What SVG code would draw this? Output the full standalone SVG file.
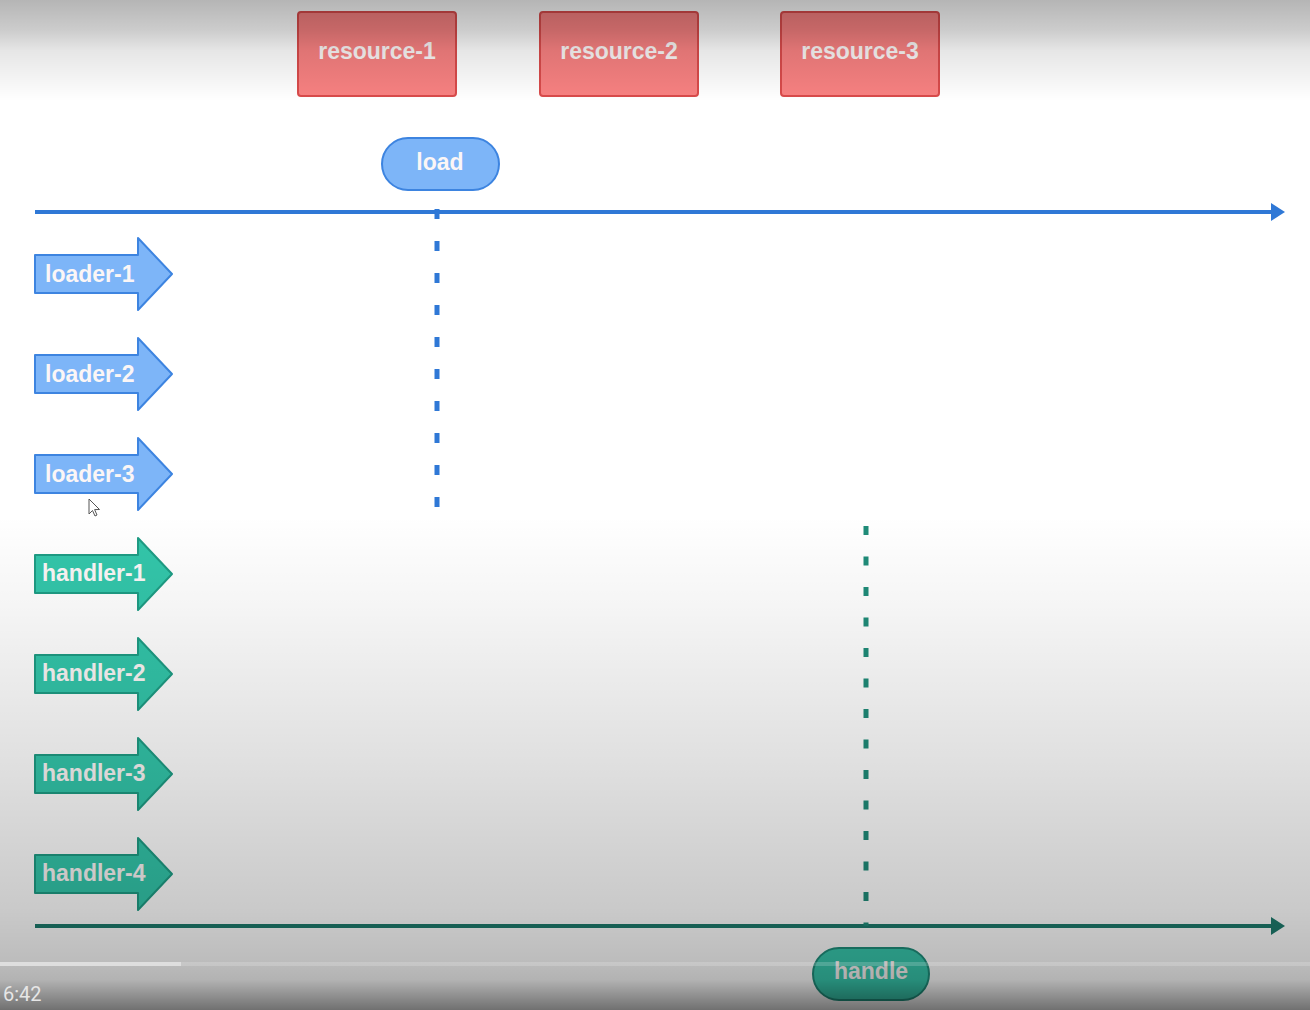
<svg xmlns="http://www.w3.org/2000/svg" xmlns:xlink="http://www.w3.org/1999/xlink" width="1310" height="1010" viewBox="0 0 1310 1010">
<defs>
<style>
.lbl{font-family:"Liberation Sans",Arial,sans-serif;font-weight:bold;font-size:23px;fill:#fbf6f6}
.res{fill:#f88181;stroke:#d94b4b;stroke-width:2}
.blue{fill:#7db5f8;stroke:#3d84e0;stroke-width:2;stroke-linejoin:round}
.teal{fill:#33c6aa;stroke:#1e9c84;stroke-width:2;stroke-linejoin:round}
.hpill{fill:#38c9ae;stroke:#1f8f7c;stroke-width:2}
.axisb{stroke:#2f78d6;stroke-width:4;fill:none}
.axist{stroke:#1d7b6d;stroke-width:4;fill:none}
.dashb{stroke:#2f78d6;stroke-width:5;stroke-dasharray:10 22;fill:none}
.dasht{stroke:#1f8c79;stroke-width:5;stroke-dasharray:9 21.5;fill:none}
</style>
<path id="arr" d="M35,-19 H138 V-36 L172,0 L138,36 V19 H35 Z"/>
<marker id="hb" markerUnits="userSpaceOnUse" markerWidth="16" markerHeight="20" refX="0" refY="10" orient="auto">
<path d="M0,1 L14,10 L0,19 Z" fill="#2f78d6"/>
</marker>
<marker id="ht" markerUnits="userSpaceOnUse" markerWidth="16" markerHeight="20" refX="0" refY="10" orient="auto">
<path d="M0,1 L14,10 L0,19 Z" fill="#1d7b6d"/>
</marker>
<linearGradient id="shade" gradientUnits="userSpaceOnUse" x1="0" y1="0" x2="0" y2="1010">
<stop offset="0" stop-color="#000" stop-opacity="0.29"/>
<stop offset="0.03" stop-color="#000" stop-opacity="0.2"/>
<stop offset="0.05" stop-color="#000" stop-opacity="0.1"/>
<stop offset="0.1" stop-color="#000" stop-opacity="0"/>
<stop offset="0.51" stop-color="#000" stop-opacity="0"/>
<stop offset="0.6" stop-color="#000" stop-opacity="0.04"/>
<stop offset="0.75" stop-color="#000" stop-opacity="0.12"/>
<stop offset="0.9" stop-color="#000" stop-opacity="0.21"/>
<stop offset="0.95" stop-color="#000" stop-opacity="0.26"/>
<stop offset="0.97" stop-color="#000" stop-opacity="0.3"/>
<stop offset="1" stop-color="#000" stop-opacity="0.56"/>
</linearGradient>
</defs>
<rect width="1310" height="1010" fill="#ffffff"/>

<g id="connectors">
<line class="axisb" x1="35" y1="212" x2="1271" y2="212" marker-end="url(#hb)"/>
<line class="dashb" x1="437" y1="209" x2="437" y2="507"/>
<line class="axist" x1="35" y1="926" x2="1271" y2="926" marker-end="url(#ht)"/>
<line class="dasht" x1="866" y1="526" x2="866" y2="926"/>
</g>

<g id="resource-1"><rect class="res" x="298" y="12" width="158" height="84" rx="3"/><text class="lbl" x="377" y="59" text-anchor="middle">resource-1</text></g>
<g id="resource-2"><rect class="res" x="540" y="12" width="158" height="84" rx="3"/><text class="lbl" x="619" y="59" text-anchor="middle">resource-2</text></g>
<g id="resource-3"><rect class="res" x="781" y="12" width="158" height="84" rx="3"/><text class="lbl" x="860" y="59" text-anchor="middle">resource-3</text></g>

<g id="load"><rect class="blue" x="382" y="138" width="117" height="52" rx="26"/><text class="lbl" x="440" y="170" text-anchor="middle">load</text></g>

<g id="loader-1"><use href="#arr" class="blue" transform="translate(0,274)"/><text class="lbl" x="45" y="282">loader-1</text></g>
<g id="loader-2"><use href="#arr" class="blue" transform="translate(0,374)"/><text class="lbl" x="45" y="382">loader-2</text></g>
<g id="loader-3"><use href="#arr" class="blue" transform="translate(0,474)"/><text class="lbl" x="45" y="482">loader-3</text></g>

<g id="handler-1"><use href="#arr" class="teal" transform="translate(0,574)"/><text class="lbl" x="42" y="581">handler-1</text></g>
<g id="handler-2"><use href="#arr" class="teal" transform="translate(0,674)"/><text class="lbl" x="42" y="681">handler-2</text></g>
<g id="handler-3"><use href="#arr" class="teal" transform="translate(0,774)"/><text class="lbl" x="42" y="781">handler-3</text></g>
<g id="handler-4"><use href="#arr" class="teal" transform="translate(0,874)"/><text class="lbl" x="42" y="881">handler-4</text></g>

<g id="handle"><rect class="hpill" x="813" y="948" width="116" height="52" rx="26"/><text class="lbl" x="871" y="979" text-anchor="middle">handle</text></g>

<path id="cursor" d="M89,499 L89,514 L92.5,510.5 L95,516 L97,515 L94.6,509.6 L99.5,509.5 Z" fill="#ffffff" stroke="#555" stroke-width="1" stroke-linejoin="round"/>

<rect id="shade-overlay" width="1310" height="1010" fill="url(#shade)"/>

<g id="player">
<rect x="0" y="962" width="1310" height="4" fill="#ffffff" fill-opacity="0.18"/>
<rect x="0" y="962" width="181" height="4" fill="#dedede"/>
<text x="3" y="1001" font-family="Roboto,'Liberation Sans',sans-serif" font-size="20" fill="#e6e6e6">6:42</text>
</g>
</svg>
